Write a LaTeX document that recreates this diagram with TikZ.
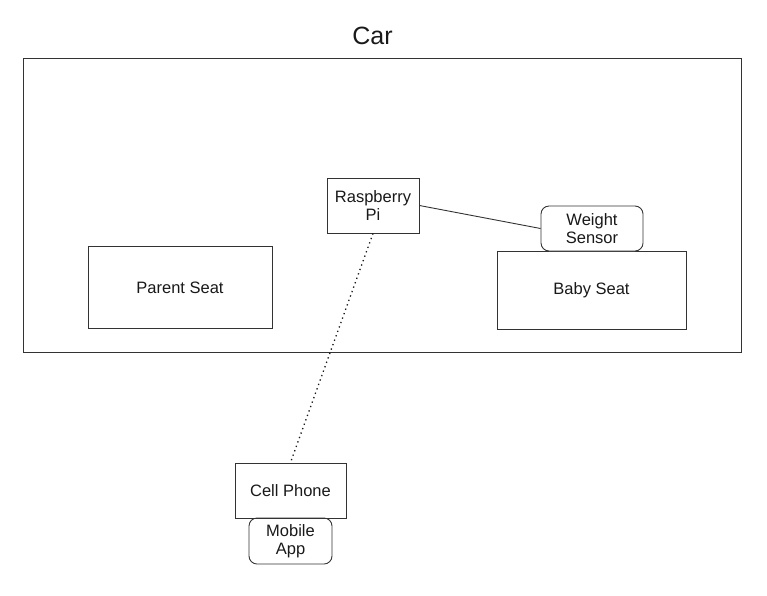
\documentclass[tikz,border=0pt]{standalone}
\usepackage{fontspec}
\setmainfont{Liberation Sans}
\begin{document}
\begin{tikzpicture}[x=1pt, y=-1pt,
    every node/.style={font=\fontsize{16.5}{17.5}\selectfont, align=center, text=black!90},
    box/.style={draw=black!80, line width=0.9pt, rectangle, inner sep=0pt},
    roundbox/.style={box, rounded corners=8pt}]
    \useasboundingbox (0,0) rectangle (767,595);
    \node[anchor=base, font=\fontsize{25}{28}\selectfont] (title) at (372.5,44) {Car};
    \node[box, minimum width=718pt, minimum height=294pt] (car) at (382,205) {};
    \node[box, minimum width=184pt, minimum height=82pt] (parent) at (180,287.5) {Parent Seat};
    \node[box, minimum width=189pt, minimum height=78pt] (baby) at (591.5,290) {Baby Seat};
    \node[box, minimum width=92pt, minimum height=55pt] (pi) at (373,205.5) {Raspberry\\Pi};
    \node[roundbox, fill=white, minimum width=102pt, minimum height=45pt] (sensor) at (592,228.5) {Weight\\Sensor};
    \node[box, minimum width=111pt, minimum height=55pt] (phone) at (290.5,490.5) {Cell Phone};
    \node[roundbox, minimum width=83pt, minimum height=46pt] (app) at (290.5,541) {Mobile\\App};
    \draw[black!80, line width=0.9pt] (pi.east) -- (sensor.west);
    \draw[black!90, line width=1.3pt, dash pattern=on 1.3pt off 3.4pt] (pi.south) -- (phone.north);
\end{tikzpicture}
\end{document}
